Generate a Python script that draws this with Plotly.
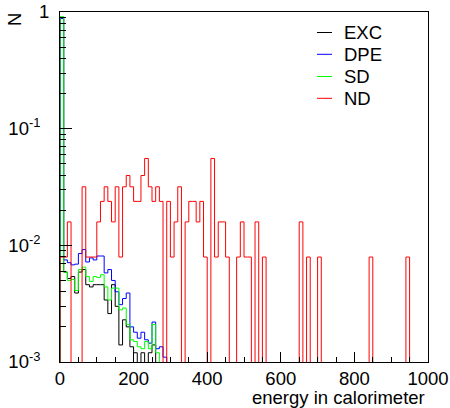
import plotly.graph_objects as go

# ---------------- data ----------------
bin_width = 10
n_bins = 100
bin_edges = [i * bin_width for i in range(n_bins + 1)]

exc_low = [0.90, 0.0059, 0.0052, 0.0054, 0.0039, 0.0059, 0.0062, 0.0046, 0.0044, 0.0046,
           0.0046, 0.0046, 0.0034, 0.0026, 0.0046, 0.0030, 0.0014, 0.0023, 0.0020, 0.00135,
           0.0012, 0.0, 0.0012, 0.0, 0.0012, 0.0014, 0.0, 0.0, 0.0, 0.0]
dpe_low = [0.88, 0.0075, 0.0071, 0.0068, 0.0069, 0.0085, 0.0092, 0.0072, 0.0078, 0.0075,
           0.0081, 0.0081, 0.0058, 0.0062, 0.0050, 0.0040, 0.0031, 0.0035, 0.0039, 0.0020,
           0.0018, 0.0016, 0.0018, 0.00155, 0.00145, 0.0022, 0.0013, 0.00135, 0.0011, 0.0]
sd_low = [0.91, 0.0059, 0.0050, 0.0051, 0.0041, 0.0062, 0.0065, 0.0054, 0.0049, 0.0054,
          0.0053, 0.0056, 0.0044, 0.0034, 0.0043, 0.0043, 0.0028, 0.0029, 0.0021, 0.00155,
          0.0015, 0.00135, 0.0013, 0.0015, 0.0013, 0.0021, 0.0012, 0.0, 0.0, 0.0]

# ND: event counts per bin (normalised to unit area below)
nd_counts = [1, 1, 2, 0, 0, 0, 4, 1, 1, 1,
             2, 3, 4, 3, 2, 4, 1, 4, 5, 4,
             3, 3, 5, 7, 4, 3, 4, 3, 0, 3,
             1, 2, 4, 0, 2, 3, 3, 2, 3, 1,
             0, 7, 1, 2, 2, 1, 0, 0, 1, 2,
             1, 1, 0, 2, 0, 1, 0, 0, 0, 0,
             0, 0, 0, 0, 0, 2, 0, 1, 0, 0,
             1, 0, 0, 0, 0, 0, 0, 0, 0, 0,
             0, 0, 0, 0, 1, 0, 0, 0, 0, 0,
             0, 0, 0, 0, 1, 0, 0, 0, 0, 0]

series_names = ["EXC", "DPE", "SD", "ND"]
series_colors = ["#000000", "#0000ff", "#00ff00", "#ff0000"]

x_tick_vals = [0, 200, 400, 600, 800, 1000]
y_tick_vals = [1e-3, 1e-2, 1e-1, 1]
y_tick_text = ["10<sup>-3</sup>&nbsp;&#8201;", "10<sup>-2</sup>&nbsp;&#8201;",
               "10<sup>-1</sup>&nbsp;&#8201;", "1"]
x_title = "energy in calorimeter"
y_title = "N"

# ---------------- build figure ----------------
def pad(vals):
    return vals + [0.0] * (n_bins - len(vals))

nd_total = sum(nd_counts)
nd_vals = [c / nd_total for c in nd_counts]
series_vals = [pad(exc_low), pad(dpe_low), pad(sd_low), nd_vals]

FLOOR = 1e-6  # empty bins drawn down to below the axis

fig = go.Figure()
for name, color, vals in zip(series_names, series_colors, series_vals):
    v = [val if val > 0 else FLOOR for val in vals]
    xs = [bin_edges[0]] + bin_edges[:-1] + [bin_edges[-1], bin_edges[-1]]
    ys = [FLOOR] + v + [v[-1], FLOOR]
    fig.add_trace(go.Scatter(x=xs, y=ys, mode="lines", name=name,
                             line=dict(color=color, width=1, shape="hv"),
                             showlegend=False, hoverinfo="skip"))

W, H = 450, 408
L, R, T, B = 60, 22, 12, 46
pw, ph = W - L - R, H - T - B
FONT = "Liberation Sans, Arial, Helvetica, sans-serif"
FS = 18.5

def px_to_paper(px, py):
    return (px - L) / pw, (H - B - py) / ph

minor_y = [m * 10 ** e for e in (-3, -2, -1) for m in range(2, 10)]

fig.update_layout(
    width=W, height=H,
    margin=dict(l=L, r=R, t=T, b=B, autoexpand=False),
    paper_bgcolor="white", plot_bgcolor="white",
    font=dict(family=FONT, size=FS, color="black"),
    xaxis=dict(range=[0, 1000], showgrid=False, zeroline=False, automargin=False,
               showline=True, linecolor="black", linewidth=1, mirror=True,
               ticks="inside", ticklen=10, tickcolor="black", tickwidth=1,
               tickvals=x_tick_vals, ticktext=[str(v) for v in x_tick_vals],
               minor=dict(dtick=50, ticks="inside", ticklen=5, tickcolor="black", showgrid=False),
               tickfont=dict(size=FS)),
    yaxis=dict(type="log", range=[-3, 0], showgrid=False, zeroline=False, automargin=False,
               showline=True, linecolor="black", linewidth=1, mirror=True,
               ticks="inside", ticklen=12, tickcolor="black", tickwidth=1,
               tickvals=y_tick_vals, ticktext=y_tick_text,
               minor=dict(tickvals=minor_y, ticks="inside", ticklen=6, tickcolor="black", showgrid=False),
               tickfont=dict(size=FS), ticklabelstandoff=6),
)

# axis titles (ROOT style: at the far end of each axis)
ax, ay = px_to_paper(427, 397.5)
fig.add_annotation(text=x_title, xref="paper", yref="paper", x=ax, y=ay,
                   xanchor="right", yanchor="middle", showarrow=False,
                   font=dict(size=FS, family=FONT))
nx, ny = px_to_paper(14, 20)
fig.add_annotation(text=y_title, xref="paper", yref="paper", x=nx, y=ny,
                   xanchor="center", yanchor="middle", showarrow=False, textangle=-90,
                   font=dict(size=FS, family=FONT))

# legend (drawn like the ROOT TLegend)
row_y = [32.5, 54.3, 76.5, 98.3]
for name, color, py in zip(series_names, series_colors, row_y):
    x0, yy = px_to_paper(317, py)
    x1, _ = px_to_paper(332, py)
    fig.add_shape(type="line", xref="paper", yref="paper", x0=x0, x1=x1, y0=yy, y1=yy,
                  line=dict(color=color, width=1))
    tx, _ = px_to_paper(342, py)
    fig.add_annotation(text=name, xref="paper", yref="paper", x=tx, y=yy,
                       xanchor="left", yanchor="middle", showarrow=False,
                       font=dict(size=FS, family=FONT))

# place the figure at the window's top-left corner (no default page margin)
fig.write_html("out.html", config={"displayModeBar": False},
               post_script="document.body.style.margin='0';")
